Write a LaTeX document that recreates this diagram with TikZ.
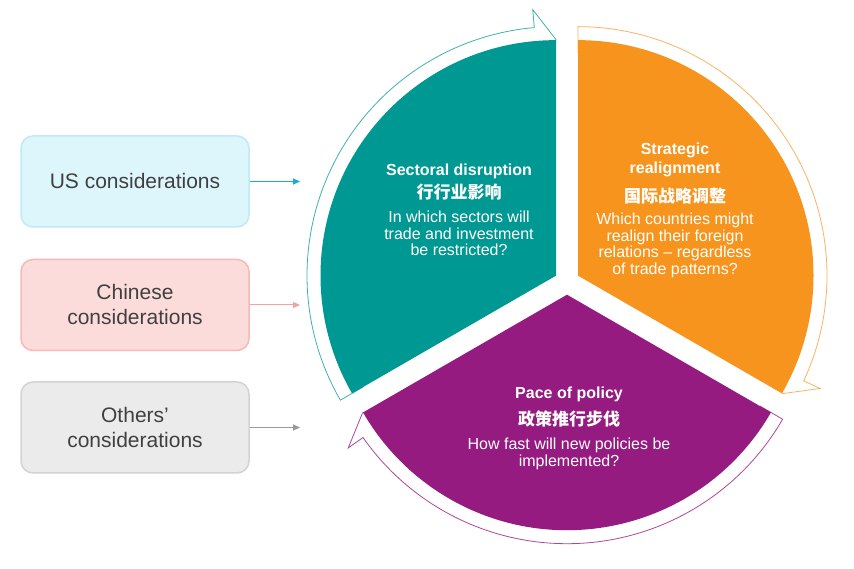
\documentclass[tikz,border=0pt]{standalone}
\usepackage{fontspec}
\setmainfont{Liberation Sans}
\newfontfamily\cjk{Noto Sans CJK SC}
\usetikzlibrary{arrows.meta}
\definecolor{wteal}{HTML}{009892}
\definecolor{worange}{HTML}{F7941D}
\definecolor{wpurple}{HTML}{951B80}
\definecolor{usfill}{HTML}{DDF6FC}
\definecolor{usline}{HTML}{BFEAF6}
\definecolor{usarrow}{HTML}{1BA8DC}
\definecolor{cnfill}{HTML}{FCDCDA}
\definecolor{cnline}{HTML}{F6B9B3}
\definecolor{cnarrow}{HTML}{F2A39C}
\definecolor{otfill}{HTML}{EBEBEB}
\definecolor{otline}{HTML}{D3D3D3}
\definecolor{otarrow}{HTML}{999999}
\definecolor{boxtext}{HTML}{404040}

\begin{document}
\begin{tikzpicture}[
      x=1pt, y=1pt,
      consbox/.style={rounded corners=12pt, line width=1.5pt, minimum width=228pt,
                      minimum height=91pt, align=center, text=boxtext,
                      font=\fontsize{21}{25}\selectfont},
      arr/.style={-{Triangle[length=7pt,width=6pt]}, line width=1pt},
      band/.style={fill=white, line width=0.8pt, line join=miter},
      title/.style={text=white, align=center, font=\fontsize{16}{18.3}\selectfont\bfseries},
      cjktitle/.style={text=white, font=\fontsize{17}{20}\selectfont\cjk\bfseries},
      body/.style={text=white, align=center, font=\fontsize{16}{16.5}\selectfont}
    ]
    \path[use as bounding box, fill=white] (0,0) rectangle (854,569);

    % curved arrows behind the wedges
    \filldraw[band, draw=wteal!75, shift={(556,293.35)}]
      (210:223pt) -- (210:249pt) arc[start angle=210, end angle=95, radius=249pt]
      -- (95:267pt) -- (90:236pt) -- (95:205pt) -- (95:223pt)
      arc[start angle=95, end angle=210, radius=223pt] -- cycle;
    \filldraw[band, draw=worange!70, shift={(578,293.35)}]
      (90:223pt) -- (90:249pt) arc[start angle=90, end angle=-25, radius=249pt]
      -- (-25:267pt) -- (-30:236pt) -- (-25:205pt) -- (-25:223pt)
      arc[start angle=-25, end angle=90, radius=223pt] -- cycle;
    \filldraw[band, draw=wpurple!80, shift={(567,274.3)}]
      (-30:223pt) -- (-30:249pt) arc[start angle=-30, end angle=-145, radius=249pt]
      -- (-145:267pt) -- (-150:236pt) -- (-145:205pt) -- (-145:223pt)
      arc[start angle=-145, end angle=-30, radius=223pt] -- cycle;

    % wedges
    \fill[wteal] (556,293.35) -- ++(90:235.5pt) arc[start angle=90, end angle=210, radius=235.5pt] -- cycle;
    \fill[worange] (578,293.35) -- ++(90:235.5pt) arc[start angle=90, end angle=-30, radius=235.5pt] -- cycle;
    \fill[wpurple] (567,274.3) -- ++(-30:235.5pt) arc[start angle=-30, end angle=-150, radius=235.5pt] -- cycle;

    \node[title] (sdT) at (459,397.3) {Sectoral disruption};
    \node[cjktitle] (sdC) at (459,377.3) {行行业影响};
    \node[body] (sdQ) at (459,335.7) {In which sectors will\\trade and investment\\be restricted?};

    \node[title] (srT) at (675,409.1) {Strategic\\realignment};
    \node[cjktitle] (srC) at (675,373.3) {国际战略调整};
    \node[body] (srQ) at (675,323.8) {Which countries might\\realign their foreign\\relations -- regardless\\of trade patterns?};

    \node[title] (ppT) at (569,175) {Pace of policy};
    \node[cjktitle] (ppC) at (569,150) {政策推行步伐};
    \node[body] (ppQ) at (569,115) {How fast will new policies be\\implemented?};

    % considerations
    \node[consbox, fill=usfill, draw=usline] (us) at (135,387.5) {US considerations};
    \node[consbox, fill=cnfill, draw=cnline] (cn) at (135,264) {Chinese\\considerations};
    \node[consbox, fill=otfill, draw=otline] (ot) at (135,141.5) {Others'\\considerations};
    \coordinate (usin) at (300,387.5);
    \coordinate (cnin) at (300,264);
    \coordinate (otin) at (300,141.5);
    \draw[arr, usarrow] (us.east) -- (usin);
    \draw[arr, cnarrow] (cn.east) -- (cnin);
    \draw[arr, otarrow] (ot.east) -- (otin);
  \end{tikzpicture}
\end{document}
